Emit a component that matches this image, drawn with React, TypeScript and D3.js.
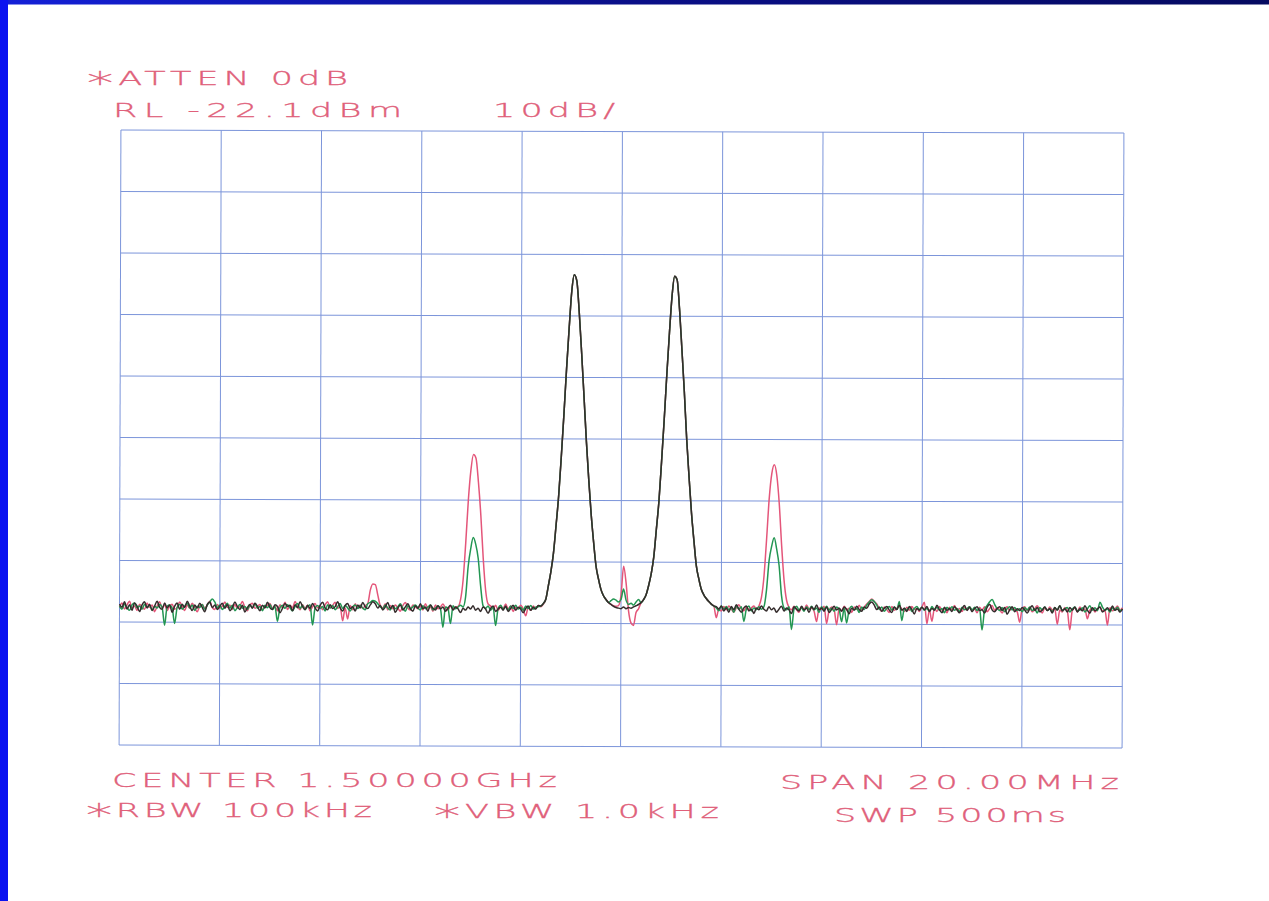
import React from "react";
import * as d3 from "d3";

// Spectrum analyzer plot: two-tone test, 3 traces (A red, B green, C black)
// sweep 1490..1510 MHz, 401 points, RL -22.1 dBm, 10 dB/div

const startFreq = 1490; // MHz
const stopFreq = 1510; // MHz
const sweepPoints = 401;
const refLevel = -22.1; // dBm
const dbPerDiv = 10;

const gridFreqs = [1490, 1492, 1494, 1496, 1498, 1500, 1502, 1504, 1506, 1508, 1510];
const gridLevels = [-22.1, -32.1, -42.1, -52.1, -62.1, -72.1, -82.1, -92.1, -102.1, -112.1, -122.1];

const headerLabels = ["*ATTEN 0dB", "RL -22.1dBm", "10dB/"];
const footerLabels = ["CENTER 1.50000GHz", "SPAN 20.00MHz", "*RBW 100kHz", "*VBW 1.0kHz", "SWP 500ms"];

// main tones, shared by all three traces (points 170..195 and 208..237)
const tone1 = [
  -98.2, -96.0, -93.7, -90.7, -86.2, -81.4, -75.1, -68.2, -60.8, -54.1,
  -48.1, -45.4, -46.4, -51.5, -58.1, -65.2, -72.5, -78.8, -84.4, -88.9,
  -92.8, -94.9, -96.6, -97.6, -98.2, -98.7,
];
const tone2 = [
  -98.7, -98.2, -97.4, -95.9, -94.0, -91.3, -86.8, -82.2, -75.8, -69.0,
  -61.6, -54.8, -48.8, -45.6, -46.2, -51.0, -57.6, -64.4, -72.1, -78.3,
  -84.1, -88.6, -92.7, -94.8, -96.5, -97.4, -98.0, -98.5, -98.9, -99.2,
];

// black trace, points 0..169 / 196..207 / 238..400
const blackLeft = [
  -99.2, -99.7, -98.8, -100.0, -99.3, -100.2, -99.0, -99.5, -100.4, -99.3,
  -98.8, -99.8, -99.2, -100.2, -99.5, -98.7, -99.7, -100.0, -99.0, -99.8,
  -99.3, -100.5, -99.5, -99.0, -100.0, -99.2, -99.7, -98.7, -99.5, -100.2,
  -99.3, -99.8, -99.0, -99.7, -100.4, -99.2, -98.8, -99.7, -99.3, -100.0,
  -99.5, -99.0, -99.8, -99.2, -100.2, -99.7, -98.8, -99.5, -100.0, -99.3,
  -100.4, -99.7, -99.2, -99.8, -99.0, -99.5, -100.2, -99.3, -99.7, -98.8,
  -99.7, -100.0, -99.2, -99.5, -100.5, -99.8, -99.0, -99.5, -99.3, -100.2,
  -99.2, -99.7, -98.7, -99.5, -100.0, -99.3, -99.8, -99.0, -99.7, -100.2,
  -99.3, -98.8, -99.7, -100.0, -99.2, -99.8, -99.5, -98.7, -99.7, -100.2,
  -99.3, -99.0, -99.8, -99.5, -100.2, -99.2, -99.7, -98.8, -99.5, -99.8,
  -99.2, -98.7, -99.0, -99.7, -99.3, -100.0, -99.5, -98.8, -99.8, -99.3,
  -100.4, -99.7, -99.2, -100.0, -99.5, -99.0, -99.8, -100.2, -99.3, -99.7,
  -99.0, -99.8, -99.5, -100.2, -99.2, -99.7, -100.0, -99.3, -99.8, -99.5,
  -100.2, -99.7, -99.2, -100.0, -99.5, -99.8, -100.4, -99.7, -100.0, -99.5,
  -99.8, -99.3, -100.0, -99.7, -100.2, -99.5, -99.8, -100.5, -99.7, -99.3,
  -100.2, -99.8, -99.5, -100.0, -99.3, -100.2, -99.7, -99.2, -100.0, -99.5,
  -99.8, -100.4, -99.7, -99.3, -100.0, -99.5, -99.8, -99.2, -99.3, -98.9,
];
const blackMid = [-99.0, -99.3, -99.5, -99.6, -99.7, -99.4, -99.7, -99.5, -99.6, -99.4, -99.2, -99.0];
const blackRight = [
  -99.3, -99.7,
  -99.2, -100.0, -99.5, -100.2, -99.3, -99.8, -99.0, -99.7, -100.2, -99.5,
  -99.2, -100.0, -99.7, -100.4, -99.5, -99.8, -99.2, -99.7, -100.0, -99.3,
  -99.8, -99.5, -100.2, -99.7, -99.2, -100.0, -99.5, -99.8, -100.4, -99.3,
  -99.7, -100.0, -99.2, -99.8, -99.5, -100.2, -99.3, -99.7, -99.0, -99.8,
  -99.5, -100.0, -99.3, -100.2, -99.7, -99.2, -99.8, -99.5, -100.0, -99.3,
  -99.7, -100.4, -99.5, -99.8, -99.2, -99.7, -100.0, -99.3, -99.5, -98.8,
  -98.5, -99.0, -99.7, -99.3, -100.0, -99.5, -99.2, -99.8, -100.2, -99.3,
  -99.7, -99.0, -99.8, -99.5, -100.0, -99.2, -99.7, -100.4, -99.5, -99.8,
  -99.3, -99.7, -99.2, -100.0, -99.5, -99.8, -99.0, -99.7, -100.2, -99.3,
  -99.8, -99.5, -100.0, -99.2, -99.7, -100.2, -99.5, -99.0, -99.8, -99.3,
  -100.0, -99.5, -99.2, -99.8, -99.7, -100.2, -99.3, -98.8, -99.7, -100.0,
  -99.5, -99.2, -99.8, -99.3, -100.4, -99.7, -99.2, -100.0, -99.5, -99.8,
  -99.3, -99.7, -100.2, -99.5, -99.0, -99.8, -99.3, -100.0, -99.7, -99.2,
  -99.8, -99.5, -100.2, -99.3, -99.7, -99.0, -99.8, -99.5, -100.0, -99.3,
  -99.7, -99.2, -100.0, -99.5, -99.8, -99.0, -99.7, -100.2, -99.3, -99.8,
  -99.5, -99.2, -100.0, -99.7, -99.3, -99.8, -99.0, -99.7, -99.5, -100.0,
  -99.5,
];

// red trace
const redLeft = [
  -99.7, -99.0, -100.0, -99.3, -98.7, -99.8, -99.5, -100.2, -99.2, -99.7,
  -100.0, -99.0, -99.7, -99.3, -100.4, -99.5, -98.8, -99.8, -99.3, -100.2,
  -99.5, -99.2, -100.0, -99.7, -98.8, -99.5, -100.2, -99.3, -99.8, -99.0,
  -99.7, -100.4, -99.5, -99.2, -99.8, -99.3, -98.7, -99.7, -100.0, -99.2,
  -99.8, -99.5, -98.8, -99.7, -99.3, -100.0, -99.2, -99.8, -99.5, -98.7,
  -99.7, -100.2, -99.3, -99.0, -99.8, -99.5, -99.2, -100.0, -99.7, -99.3,
  -99.0, -99.8, -99.5, -100.2, -99.2, -99.7, -98.8, -100.0, -99.3, -99.7,
  -98.7, -99.5, -100.0, -99.2, -99.8, -99.3, -100.2, -99.5, -99.0, -99.7,
  -99.3, -100.0, -99.2, -98.7, -99.7, -99.3, -98.8, -99.8, -99.5, -101.8,
  -99.7, -101.5, -99.3, -100.0, -99.0, -99.7, -99.2, -99.8, -99.3, -99.0,
  -96.8, -95.8, -95.9, -97.6, -99.3, -99.7, -99.0, -100.0, -99.3, -99.8,
  -99.2, -99.7, -100.2, -99.3, -98.8, -99.7, -100.0, -99.2, -99.5, -99.8,
  -99.3, -100.0, -99.0, -99.7, -99.5, -100.2, -99.2, -99.8, -99.5, -99.0,
  -99.7, -100.0, -99.3, -99.8, -99.5, -99.4, -98.3, -95.1, -89.1, -82.1,
  -77.2, -74.7, -75.3, -79.2, -84.6, -91.6, -96.8, -99.0, -99.3, -99.8,
  -99.2, -100.0, -99.5, -99.7, -99.0, -99.8, -99.3, -100.2, -99.5, -99.7,
  -99.2, -99.8, -100.9, -99.5, -100.0, -99.3, -99.7, -99.2, -99.4, -99.0,
];
const redMid = [-99.0, -99.2, -99.3, -99.2, -97.5, -92.8, -95.5, -100.0, -102.0, -102.4, -100.3, -99.7];
const redRight = [
  -101.1, -99.7,
  -100.0, -99.3, -99.8, -99.2, -99.7, -100.2, -99.5, -99.0, -99.7, -100.0,
  -99.3, -99.8, -99.5, -99.2, -99.7, -99.2, -97.8, -94.3, -88.2, -81.6,
  -77.6, -76.2, -78.0, -82.6, -89.4, -95.0, -98.2, -99.4, -99.8, -99.2,
  -99.7, -100.2, -99.3, -99.8, -99.0, -99.7, -99.5, -100.0, -101.7, -99.5,
  -99.7, -99.2, -102.0, -99.8, -99.3, -99.7, -102.2, -99.5, -100.0, -99.2,
  -99.8, -99.5, -100.2, -99.3, -99.7, -99.0, -99.8, -99.3, -98.8, -98.4,
  -98.0, -98.4, -98.8, -99.5, -100.0, -99.3, -99.7, -100.2, -99.2, -99.8,
  -99.5, -99.0, -99.7, -100.0, -99.3, -99.8, -99.2, -99.7, -99.5, -100.0,
  -99.3, -98.5, -102.0, -99.7, -101.6, -99.5, -100.0, -99.2, -99.8, -99.5,
  -100.2, -99.3, -99.7, -99.0, -99.8, -99.5, -100.0, -99.3, -99.7, -99.2,
  -99.8, -99.5, -100.2, -99.3, -99.7, -99.2, -100.0, -99.5, -99.0, -99.8,
  -99.3, -99.7, -100.2, -99.5, -99.2, -99.8, -99.3, -99.7, -100.0, -101.7,
  -99.5, -99.2, -99.8, -99.3, -100.0, -99.5, -99.0, -99.7, -100.2, -99.3,
  -99.8, -99.2, -99.7, -99.5, -102.0, -99.7, -100.0, -99.3, -99.8, -102.9,
  -99.7, -99.3, -100.0, -99.2, -99.8, -99.5, -101.1, -99.7, -99.3, -100.0,
  -99.5, -99.2, -99.8, -99.7, -102.1, -99.3, -99.8, -99.5, -99.0, -99.7,
  -99.3,
];

// green trace
const greenLeft = [
  -99.5, -100.0, -99.2, -99.7, -100.2, -99.3, -99.0, -99.8, -99.5, -100.0,
  -99.2, -99.7, -99.3, -100.2, -99.5, -99.8, -99.2, -99.7, -102.6, -99.5,
  -99.3, -99.8, -102.3, -99.7, -99.2, -100.0, -99.5, -99.0, -99.8, -99.3,
  -100.2, -99.5, -99.7, -99.2, -100.0, -99.3, -98.8, -98.3, -98.8, -99.7,
  -99.3, -100.0, -99.5, -99.0, -99.8, -99.3, -100.2, -99.7, -99.2, -99.8,
  -99.5, -100.0, -99.3, -99.7, -99.0, -99.8, -99.5, -100.2, -99.3, -99.7,
  -99.2, -100.0, -99.5, -101.9, -99.7, -99.3, -99.8, -99.2, -99.7, -100.2,
  -99.5, -99.0, -99.8, -99.3, -100.0, -99.5, -99.2, -102.5, -99.7, -99.3,
  -99.8, -99.5, -100.2, -99.2, -99.7, -99.3, -100.0, -99.5, -99.0, -99.8,
  -99.3, -99.7, -100.2, -99.5, -99.2, -99.8, -99.3, -99.7, -100.0, -99.0,
  -98.8, -98.5, -98.6, -99.0, -99.5, -99.8, -99.2, -99.7, -100.0, -99.3,
  -99.8, -99.5, -99.0, -99.7, -100.2, -99.3, -99.8, -99.5, -99.2, -99.7,
  -100.0, -99.3, -99.8, -99.5, -99.2, -100.0, -99.7, -99.3, -99.8, -102.8,
  -99.5, -99.7, -102.2, -99.3, -99.8, -99.5, -99.2, -99.5, -97.9, -92.9,
  -90.0, -88.2, -89.3, -91.6, -96.1, -99.3, -99.7, -99.3, -100.0, -99.5,
  -102.5, -99.7, -99.2, -99.8, -99.5, -100.0, -99.3, -99.7, -99.2, -99.8,
  -99.5, -100.0, -99.3, -99.7, -99.2, -99.8, -99.5, -99.4, -99.3, -98.9,
];
const greenMid = [-98.4, -98.1, -98.3, -98.6, -98.2, -96.5, -98.3, -99.0, -98.8, -99.1, -98.6, -98.2];
const greenRight = [
  -99.5, -100.0,
  -99.2, -99.7, -99.3, -99.8, -99.5, -100.2, -99.2, -99.7, -99.3, -101.7,
  -99.7, -99.2, -100.0, -99.5, -99.8, -99.3, -99.7, -99.3, -96.6, -91.8,
  -89.5, -88.1, -89.9, -92.6, -97.5, -99.5, -99.8, -99.3, -103.0, -99.7,
  -99.2, -99.8, -99.5, -100.0, -99.3, -99.7, -99.2, -99.8, -99.5, -100.2,
  -99.3, -99.7, -99.2, -99.8, -99.5, -100.0, -99.3, -99.7, -101.7, -99.5,
  -101.9, -99.7, -99.2, -99.8, -99.5, -100.2, -99.3, -99.7, -99.0, -98.5,
  -98.1, -98.4, -99.0, -99.7, -99.3, -100.0, -99.5, -99.2, -99.8, -99.3,
  -99.7, -98.4, -101.5, -99.5, -99.8, -99.3, -100.0, -99.5, -99.2, -99.7,
  -99.3, -99.8, -99.5, -100.0, -99.2, -99.7, -99.3, -99.8, -99.5, -100.2,
  -99.3, -99.7, -99.2, -99.8, -99.5, -100.0, -99.3, -99.7, -99.5, -99.2,
  -99.7, -99.3, -99.8, -99.5, -103.0, -99.7, -99.0, -98.4, -98.0, -98.8,
  -99.5, -99.8, -99.3, -100.0, -99.5, -99.2, -99.7, -99.3, -99.8, -99.5,
  -100.0, -99.3, -99.7, -99.2, -99.8, -99.5, -100.2, -99.3, -99.7, -99.2,
  -99.8, -99.5, -100.0, -99.3, -99.7, -99.0, -99.8, -99.5, -99.3, -100.0,
  -99.5, -99.2, -99.8, -99.7, -99.3, -100.0, -99.5, -99.0, -99.7, -99.3,
  -99.8, -98.4, -99.2, -99.7, -99.5, -100.0, -99.3, -99.7, -99.2, -99.8,
  -99.5,
];

const traceA = [...redLeft, ...tone1, ...redMid, ...tone2, ...redRight];
const traceB = [...greenLeft, ...tone1, ...greenMid, ...tone2, ...greenRight];
const traceC = [...blackLeft, ...tone1, ...blackMid, ...tone2, ...blackRight];

// layout
const W = 1269;
const H = 901;
const plot = { left: 120, right: 1123, top: 131.5, bottom: 746.5 };
const tilt = 0.17; // scan is slightly rotated
const textColor = "#e0607a";
const gridColor = "#7c95da";
const stretch = 1.75;

const headerPos = [
  { x0: 87, x1: 348, y: 85 },
  { x0: 113, x1: 402, y: 117.5 },
  { x0: 493, x1: 615, y: 117 },
];
const footerPos = [
  { x0: 112, x1: 557, y: 787 },
  { x0: 780, x1: 1119, y: 789 },
  { x0: 86, x1: 372, y: 817 },
  { x0: 434, x1: 719, y: 818 },
  { x0: 834, x1: 1066, y: 822 },
];

const x = d3.scaleLinear().domain([startFreq, stopFreq]).range([plot.left, plot.right]);
const y = d3
  .scaleLinear()
  .domain([refLevel - dbPerDiv * 10, refLevel])
  .range([plot.bottom, plot.top]);

const freqAt = (i: number) => startFreq + ((stopFreq - startFreq) * i) / (sweepPoints - 1);

const line = d3
  .line<number>()
  .x((_, i) => x(freqAt(i)))
  .y((d) => y(d))
  .curve(d3.curveMonotoneX);

const traces = [
  { key: "A", values: traceA, color: "#e4567a" },
  { key: "B", values: traceB, color: "#239652" },
  { key: "C", values: traceC, color: "#342c2c" },
];

function Label({ text, x0, x1, yb }: { text: string; x0: number; x1: number; yb: number }) {
  const star = text.startsWith("*");
  const rest = star ? text.slice(1) : text;
  return (
    <text
      x={x0 / stretch}
      y={yb}
      textLength={(x1 - x0) / stretch}
      lengthAdjust="spacing"
      fill={textColor}
      stroke={textColor}
      strokeWidth={0.3}
      fontFamily="'DejaVu Sans', sans-serif"
      fontWeight={200}
      fontSize={20}
    >
      {star && (
        <tspan fontSize={30} dy={8}>
          *
        </tspan>
      )}
      <tspan dy={star ? -8 : 0}>{rest}</tspan>
    </text>
  );
}

export default function App() {
  const cx = (plot.left + plot.right) / 2;
  const cy = (plot.top + plot.bottom) / 2;
  return (
    <>
      <style>{`body{margin:0;background:#fff}`}</style>
      <svg width={W} height={H} viewBox={`0 0 ${W} ${H}`} style={{ display: "block" }}>
        <defs>
          <linearGradient id="topband" x1="0" x2="1" y1="0" y2="0">
            <stop offset="0" stopColor="#1420d8" />
            <stop offset="0.5" stopColor="#0a0f88" />
            <stop offset="1" stopColor="#050a60" />
          </linearGradient>
        </defs>
        <rect x={0} y={0} width={W} height={H} fill="#ffffff" />
        <rect x={0} y={0} width={W} height={4.5} fill="url(#topband)" />
        <rect x={0} y={0} width={8} height={H} fill="#0a12f0" />

        <g transform={`rotate(${tilt},${cx},${cy})`}>
          {gridFreqs.map((f) => (
            <line
              key={`v${f}`}
              x1={x(f)}
              x2={x(f)}
              y1={plot.top}
              y2={plot.bottom}
              stroke={gridColor}
              strokeWidth={1}
            />
          ))}
          {gridLevels.map((l) => (
            <line
              key={`h${l}`}
              x1={plot.left}
              x2={plot.right}
              y1={y(l)}
              y2={y(l)}
              stroke={gridColor}
              strokeWidth={1}
            />
          ))}
          {traces.map((t) => (
            <path
              key={t.key}
              d={line(t.values) ?? ""}
              fill="none"
              stroke={t.color}
              strokeWidth={1.5}
              strokeLinejoin="round"
            />
          ))}
        </g>

        <g transform={`scale(${stretch},1)`}>
          {headerLabels.map((s, i) => (
            <Label key={s} text={s} x0={headerPos[i].x0} x1={headerPos[i].x1} yb={headerPos[i].y} />
          ))}
          {footerLabels.map((s, i) => (
            <Label key={s} text={s} x0={footerPos[i].x0} x1={footerPos[i].x1} yb={footerPos[i].y} />
          ))}
        </g>
      </svg>
    </>
  );
}
